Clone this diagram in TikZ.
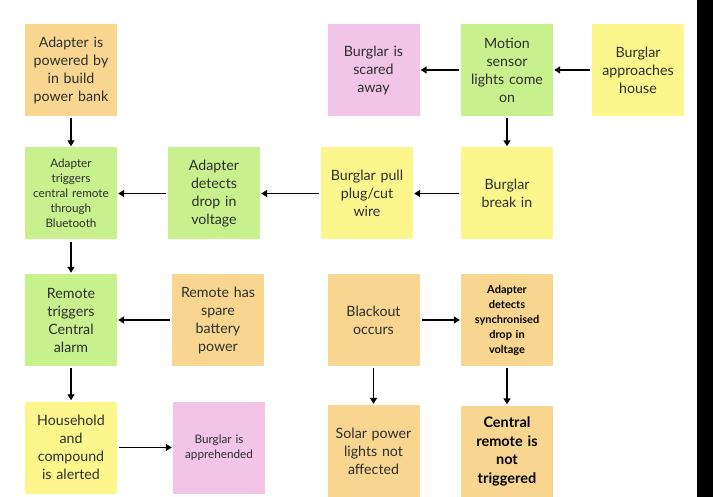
\documentclass[tikz,border=0pt]{standalone}
\usepackage{fontspec}
\setmainfont{Lato}
\usetikzlibrary{arrows.meta}

\definecolor{cardorange}{HTML}{F8D68F}
\definecolor{cardyellow}{HTML}{FCF68C}
\definecolor{cardgreen}{HTML}{C8F18D}
\definecolor{cardpink}{HTML}{F2C4E6}
\definecolor{inkgray}{HTML}{2E2E2E}

\tikzset{
  card/.style={minimum width=92pt, minimum height=92pt, inner sep=0pt,
    align=center, text width=90pt, text=inkgray,
    font=\fontsize{14.2}{18}\selectfont},
  smallcard/.style={card, font=\fontsize{11.7}{15}\selectfont},
  boldsmall/.style={card, text=black, font=\bfseries\fontsize{11}{15}\selectfont},
  boldlarge/.style={card, text=black, font=\bfseries\fontsize{14.5}{18.5}\selectfont},
  arr/.style={draw=black, line width=1.9pt,
    -{Triangle[width=7pt,length=6pt]}, shorten <=2pt, shorten >=1pt}
}

\begin{document}
\begin{tikzpicture}[x=1pt, y=-1pt]
\useasboundingbox (0,0) rectangle (713,497);
\fill[white] (0,0) rectangle (713,497);
\fill[black] (697,0) rectangle (713,497);

% left column
\node[card, fill=cardorange] (power) at (71,70) {Adapter is\\powered by\\in build\\power bank};
\node[smallcard, fill=cardgreen] (trig) at (71,193.5) {Adapter\\triggers\\central remote\\through\\Bluetooth};
\node[card, fill=cardgreen] (remote) at (71,320) {Remote\\triggers\\Central\\alarm};
\node[card, fill=cardyellow] (house) at (71,447.5) {Household\\and\\compound\\is alerted};

% second column
\node[card, fill=cardgreen] (detect) at (214,193.5) {Adapter\\detects\\drop in\\voltage};
\node[card, fill=cardorange] (spare) at (218,320) {Remote has\\spare\\battery\\power};
\node[smallcard, fill=cardpink] (caught) at (219,447.5) {Burglar is\\apprehended};

% third column
\node[card, fill=cardpink] (scared) at (373.5,70) {Burglar is\\scared\\away};
\node[card, fill=cardyellow] (pull) at (367,193.5) {Burglar pull\\plug/cut\\wire};
\node[card, fill=cardorange] (blackout) at (373.5,320) {Blackout\\occurs};
\node[card, fill=cardorange] (solar) at (373.5,451) {Solar power\\lights not\\affected};

% fourth column
\node[card, fill=cardgreen] (motion) at (507,70) {Motion\\sensor\\lights come\\on};
\node[card, fill=cardyellow] (breakin) at (507,193.5) {Burglar\\break in};
\node[boldsmall, fill=cardorange] (sync) at (507,320) {Adapter\\detects\\synchronised\\drop in\\voltage};
\node[boldlarge, fill=cardorange] (central) at (507,451.5) {Central\\remote is\\not\\triggered};

% fifth column
\node[card, fill=cardyellow] (approach) at (638,70) {Burglar\\approaches\\house};

% connectors
\draw[arr] (approach) -- (motion);
\draw[arr] (motion) -- (scared);
\draw[arr] (motion) -- (breakin);
\draw[arr] (breakin) -- (pull);
\draw[arr] (pull) -- (detect);
\draw[arr] (detect) -- (trig);
\draw[arr] (power) -- (trig);
\draw[arr] (trig) -- (remote);
\draw[arr] (spare) -- (remote);
\draw[arr] (remote) -- (house);
\draw[arr] (house) -- (caught);
\draw[arr] (blackout) -- (sync);
\draw[arr] (blackout) -- (solar);
\draw[arr] (sync) -- (central);
\end{tikzpicture}
\end{document}
